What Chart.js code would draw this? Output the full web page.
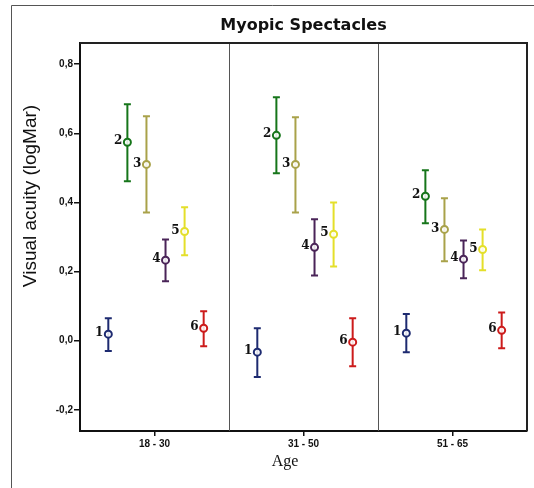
<!DOCTYPE html>
<html>
<head>
<meta charset="utf-8">
<script src="https://cdn.jsdelivr.net/npm/chart.js@4/dist/chart.umd.min.js"></script>
<style>
  html, body { margin: 0; padding: 0; background: #fff; }
  #wrap { position: relative; width: 534px; height: 488px; }
  canvas { position: absolute; left: 0; top: 0; }
</style>
</head>
<body>
<div id="wrap"><canvas id="c" width="534" height="488"></canvas></div>
<script>
// Age bands on the x axis
const ageGroups = ['18 - 30', '31 - 50', '51 - 65'];
// Group numbers printed beside each marker
const groupNames = ['1', '2', '3', '4', '5', '6'];
// Y axis tick values
const yTicks = [-0.2, 0.0, 0.2, 0.4, 0.6, 0.8];

// Mean visual acuity (logMAR) per group, one value per age band
const mean1 = [0.019, -0.033, 0.022];
const mean2 = [0.574, 0.594, 0.418];
const mean3 = [0.510, 0.510, 0.322];
const mean4 = [0.233, 0.270, 0.236];
const mean5 = [0.316, 0.308, 0.264];
const mean6 = [0.036, -0.004, 0.030];

// Lower ends of the error bars
const low1 = [-0.030, -0.105, -0.033];
const low2 = [0.461, 0.484, 0.340];
const low3 = [0.371, 0.371, 0.230];
const low4 = [0.172, 0.189, 0.181];
const low5 = [0.247, 0.215, 0.204];
const low6 = [-0.016, -0.074, -0.022];

// Upper ends of the error bars
const high1 = [0.065, 0.036, 0.077];
const high2 = [0.684, 0.704, 0.493];
const high3 = [0.649, 0.646, 0.412];
const high4 = [0.293, 0.351, 0.290];
const high5 = [0.386, 0.400, 0.322];
const high6 = [0.085, 0.065, 0.082];

const means = [mean1, mean2, mean3, mean4, mean5, mean6];
const lows = [low1, low2, low3, low4, low5, low6];
const highs = [high1, high2, high3, high4, high5, high6];
const colors = ['#1d2a70', '#16751a', '#a9a24a', '#4a2458', '#e4df2a', '#cc1b1b'];

// side-by-side spacing of the six groups inside one age band (axis units)
const dodge = 0.128;
const shift = 0.01;

const datasets = means.map((m, g) => ({
  label: groupNames[g],
  data: m.map((v, i) => ({ x: i + (g - 2.5) * dodge + shift, y: v })),
  lows: lows[g],
  highs: highs[g],
  borderColor: colors[g],
  backgroundColor: 'rgba(255,255,255,0.85)',
  pointRadius: 3.5,
  pointBorderWidth: 2,
  pointHoverRadius: 3.5,
  showLine: false
}));

const decorations = {
  id: 'decorations',
  beforeDatasetsDraw(chart) {
    const { ctx, chartArea: a, scales: { x, y } } = chart;
    ctx.save();
    // panel dividers between age bands
    ctx.strokeStyle = '#555';
    ctx.lineWidth = 1;
    [0.5, 1.5].forEach(v => {
      const px = Math.round(x.getPixelForValue(v)) + 0.5;
      ctx.beginPath(); ctx.moveTo(px, a.top); ctx.lineTo(px, a.bottom); ctx.stroke();
    });
    // error bars
    chart.data.datasets.forEach(ds => {
      ctx.strokeStyle = ds.borderColor;
      ctx.lineWidth = 2;
      ds.data.forEach((p, i) => {
        const px = x.getPixelForValue(p.x);
        const y0 = y.getPixelForValue(ds.lows[i]);
        const y1 = y.getPixelForValue(ds.highs[i]);
        ctx.beginPath();
        ctx.moveTo(px, y0); ctx.lineTo(px, y1);
        ctx.moveTo(px - 3.5, y0); ctx.lineTo(px + 3.5, y0);
        ctx.moveTo(px - 3.5, y1); ctx.lineTo(px + 3.5, y1);
        ctx.stroke();
      });
    });
    ctx.restore();
  },
  afterDatasetsDraw(chart) {
    const { ctx, chartArea: a, scales: { x, y } } = chart;
    ctx.save();
    // group numbers beside the markers
    ctx.fillStyle = '#111';
    ctx.font = 'bold 12px "DejaVu Serif"';
    ctx.textAlign = 'right';
    ctx.textBaseline = 'middle';
    chart.data.datasets.forEach(ds => {
      ds.data.forEach(p => {
        ctx.fillText(ds.label, x.getPixelForValue(p.x) - 5, y.getPixelForValue(p.y) - 1);
      });
    });
    // top and right frame of the plot
    ctx.strokeStyle = '#222';
    ctx.lineWidth = 2;
    ctx.beginPath();
    ctx.moveTo(a.left, a.top); ctx.lineTo(a.right, a.top); ctx.lineTo(a.right, a.bottom);
    ctx.stroke();
    // outer frame
    ctx.strokeStyle = '#555';
    ctx.lineWidth = 1;
    ctx.beginPath();
    ctx.moveTo(11.5, 488); ctx.lineTo(11.5, 5.5); ctx.lineTo(534, 5.5);
    ctx.stroke();
    // titles
    ctx.fillStyle = '#111';
    ctx.textAlign = 'center';
    ctx.textBaseline = 'middle';
    ctx.font = 'bold 16px "DejaVu Sans"';
    ctx.fillText('Myopic Spectacles', (a.left + a.right) / 2, 26);
    ctx.font = '19px "Liberation Sans"';
    ctx.save();
    ctx.translate(31, 196);
    ctx.rotate(-Math.PI / 2);
    ctx.fillText('Visual acuity (logMar)', 0, 0);
    ctx.restore();
    ctx.font = '16px "Liberation Serif"';
    ctx.fillText('Age', 285, 462);
    ctx.restore();
  }
};

new Chart(document.getElementById('c'), {
  type: 'scatter',
  data: { datasets },
  options: {
    responsive: false,
    animation: false,
    events: [],
    layout: { padding: { left: 0, top: 43, right: 7, bottom: 0 } },
    plugins: { legend: { display: false }, tooltip: { enabled: false }, title: { display: false } },
    scales: {
      x: {
        type: 'linear',
        min: -0.5,
        max: 2.5,
        afterBuildTicks: s => { s.ticks = ageGroups.map((_, i) => ({ value: i })); },
        afterFit: s => { s.height = 57; },
        ticks: {
          callback: v => ageGroups[v],
          color: '#111',
          font: { family: '"Liberation Sans"', size: 10, weight: 'bold' },
          padding: 2,
          maxRotation: 0
        },
        grid: { drawOnChartArea: false, drawTicks: true, tickLength: 5, color: '#111', lineWidth: 1.5 },
        border: { display: true, color: '#111', width: 2 }
      },
      y: {
        type: 'linear',
        min: -0.261,
        max: 0.861,
        afterBuildTicks: s => { s.ticks = yTicks.map(v => ({ value: v })); },
        afterFit: s => { s.width = 80; },
        ticks: {
          callback: v => v.toFixed(1).replace('.', ','),
          color: '#111',
          font: { family: '"Liberation Sans"', size: 10, weight: 'bold' },
          padding: 1
        },
        grid: { drawOnChartArea: false, drawTicks: true, tickLength: 6, color: '#111', lineWidth: 1.5 },
        border: { display: true, color: '#111', width: 2 }
      }
    }
  },
  plugins: [decorations]
});
</script>
</body>
</html>
